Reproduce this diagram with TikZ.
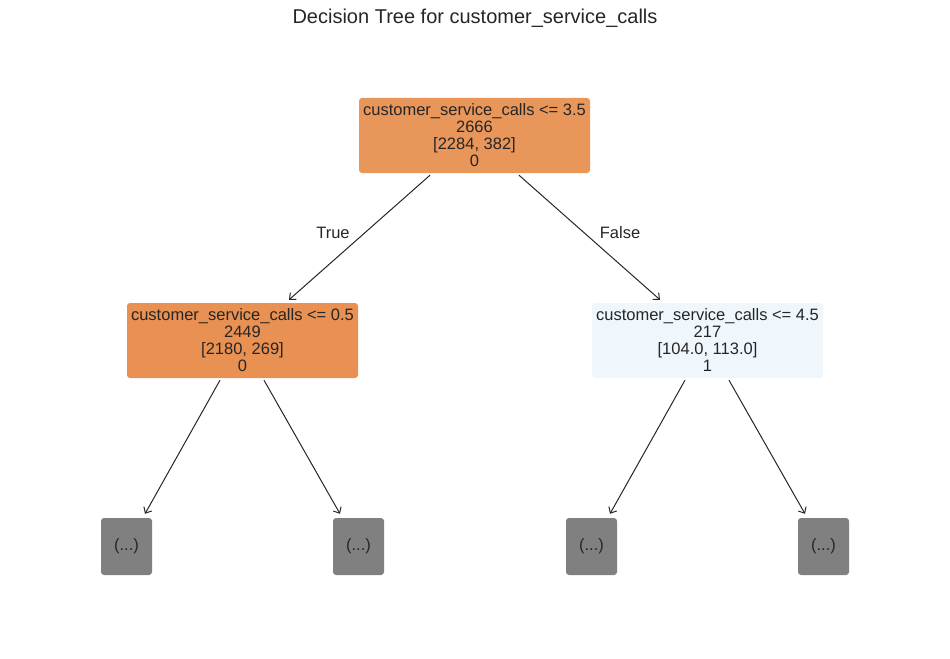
\documentclass[tikz,border=0pt]{standalone}
\usepackage{fontspec}
\setmainfont{Liberation Sans}
\usetikzlibrary{arrows.meta,calc}
\definecolor{txt}{RGB}{38,38,38}
\definecolor{rootc}{RGB}{233,150,90}
\definecolor{leftc}{RGB}{232,145,82}
\definecolor{rightc}{RGB}{239,247,253}
\definecolor{leafc}{RGB}{128,128,128}
\begin{document}
\begin{tikzpicture}[x=1bp,y=-1bp,
  box/.style={rounded corners=3bp, inner sep=0pt, minimum width=231bp, minimum height=75bp, align=center, text=txt, font=\fontsize{16.5bp}{17bp}\selectfont},
  leafbox/.style={fill=leafc, rounded corners=3bp, inner sep=0pt, minimum width=51bp, minimum height=57bp, text=txt, font=\fontsize{16.5bp}{17bp}\selectfont},
  edgeline/.style={draw=txt, line width=1bp, -{Straight Barb[length=5bp,width=9bp]}},
  lbl/.style={text=txt, font=\fontsize{16.5bp}{17bp}\selectfont}]
\useasboundingbox (0,0) rectangle (950,659);
\node[text=txt, font=\fontsize{20bp}{22bp}\selectfont] (title) at (475,18) {Decision Tree for customer\_service\_calls};
\node[box, fill=rootc] (root) at (474.5,135.5) {customer\_service\_calls <= 3.5\\2666\\{[2284, 382]}\\0};
\node[box, fill=leftc] (left) at (242.5,340.5) {customer\_service\_calls <= 0.5\\2449\\{[2180, 269]}\\0};
\node[box, fill=rightc] (right) at (707.5,340.5) {customer\_service\_calls <= 4.5\\217\\{[104.0, 113.0]}\\1};
\node[leafbox] (l1) at (126.5,546.5) {(...)};
\node[leafbox] (l2) at (358.5,546.5) {(...)};
\node[leafbox] (l3) at (591.5,546.5) {(...)};
\node[leafbox] (l4) at (823.5,546.5) {(...)};
\draw[edgeline] ($(root.south)+(-44.5,2)$) -- ($(left.north)+(46.5,-3)$);
\draw[edgeline] ($(root.south)+(44.5,2)$) -- ($(right.north)+(-47.5,-3)$);
\draw[edgeline] ($(left.south)+(-22.5,2)$) -- ($(l1.north)+(18.5,-4)$);
\draw[edgeline] ($(left.south)+(21.5,2)$) -- ($(l2.north)+(-18.5,-4)$);
\draw[edgeline] ($(right.south)+(-22.5,2)$) -- ($(l3.north)+(18.5,-4)$);
\draw[edgeline] ($(right.south)+(21.5,2)$) -- ($(l4.north)+(-18.5,-4)$);
\node[lbl] (ltrue) at (333,233) {True};
\node[lbl] (lfalse) at (620,233) {False};
\end{tikzpicture}
\end{document}
